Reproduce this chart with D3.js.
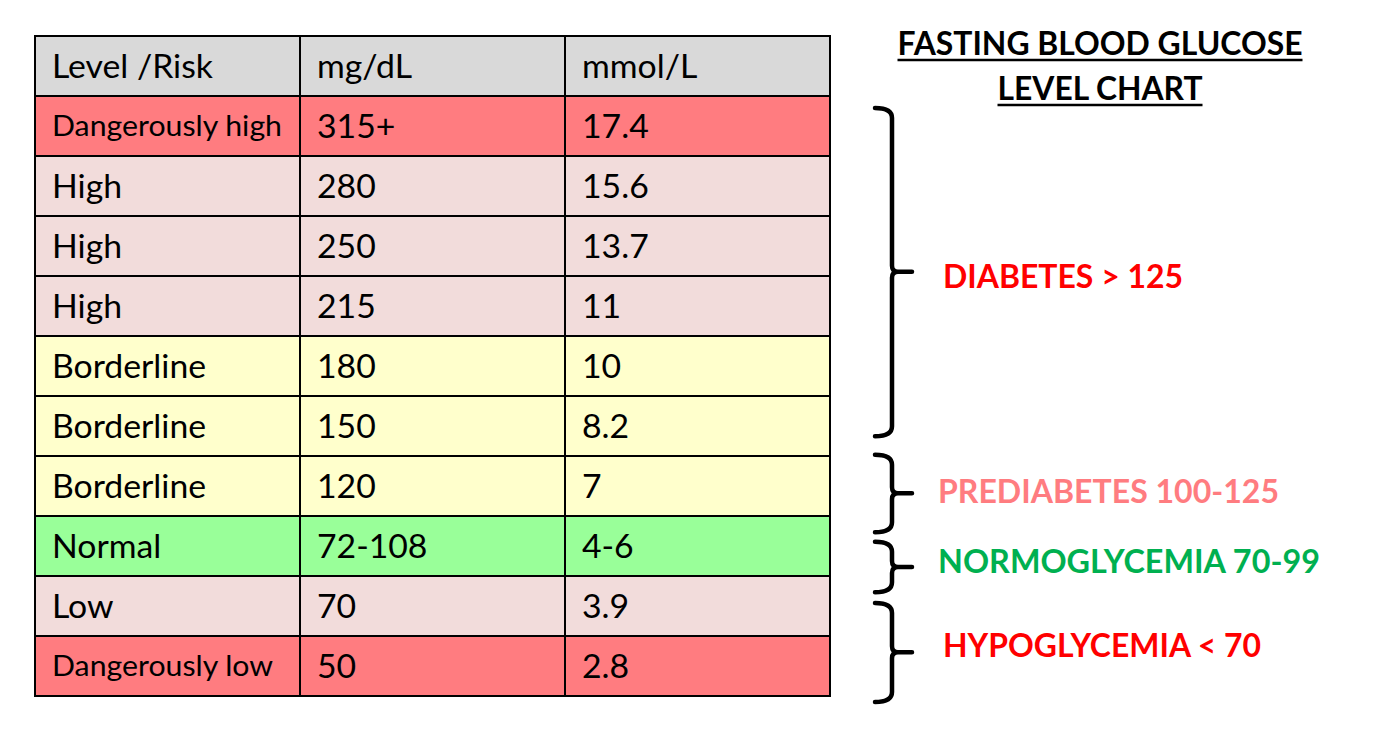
<!DOCTYPE html>
<html><head><meta charset="utf-8">
<script src="https://cdn.jsdelivr.net/npm/d3@7"></script>
<style>html,body{margin:0;padding:0;background:#fff;}</style>
</head><body>
<svg id="c" width="1392" height="733"></svg>
<script>
const headers = ["Level /Risk", "mg/dL", "mmol/L"];
const levels = ["Dangerously high","High","High","High","Borderline","Borderline","Borderline","Normal","Low","Dangerously low"];
const mgdl = ["315+","280","250","215","180","150","120","72-108","70","50"];
const mmol = ["17.4","15.6","13.7","11","10","8.2","7","4-6","3.9","2.8"];
const levelColors = {"Dangerously high":"#FF7C80","High":"#F2DCDB","Borderline":"#FFFFCC","Normal":"#99FF99","Low":"#F2DCDB","Dangerously low":"#FF7C80"};
const titleLines = ["FASTING BLOOD GLUCOSE","LEVEL CHART"];
const rangeLabels = ["DIABETES > 125","PREDIABETES 100-125","NORMOGLYCEMIA 70-99","HYPOGLYCEMIA < 70"];
const rangeColors = ["#FF0000","#FF7C80","#00B050","#FF0000"];
// brace extents in row units (start, middle, end)
const rangeSpans = [[0.2,2.93,5.67],[5.98,6.62,7.27],[7.43,7.85,8.27],[8.45,9.27,10.1]];

const svg = d3.select("#c");
const FONT = "Lato, 'Open Sans', sans-serif";
const x = d3.scaleBand().domain(headers).range([35,830]);
const y = d3.scaleLinear().domain([0,10]).range([96,696]);
const headTop = 36;

const g = svg.append("g");
g.selectAll("rect.h").data(headers).join("rect")
  .attr("x",d=>x(d)).attr("y",headTop).attr("width",x.bandwidth()).attr("height",y(0)-headTop)
  .attr("fill","#D9D9D9");
const rows = levels.map((l,i)=>({l,i,cells:[l,mgdl[i],mmol[i]]}));
g.selectAll("rect.r").data(rows).join("rect")
  .attr("x",35).attr("y",d=>y(d.i)).attr("width",795).attr("height",y(1)-y(0))
  .attr("fill",d=>levelColors[d.l]);

function measure(txt,size,weight){
  const t = svg.append("text").attr("font-family",FONT).attr("font-size",size).attr("font-weight",weight||"normal").text(txt);
  const w = t.node().getComputedTextLength(); t.remove(); return w;
}
function addText(sel, txt, size, weight, fill, xx, yy, anchor, factor){
  const t = sel.append("text").attr("x",xx).attr("y",yy).attr("font-family",FONT)
    .attr("font-size",size).attr("font-weight",weight||"normal").attr("fill",fill||"#000")
    .attr("text-anchor",anchor||"start").text(txt);
  const w = t.node().getComputedTextLength();
  t.attr("textLength",w*factor).attr("lengthAdjust","spacingAndGlyphs");
  return t;
}
const BIG = 33, SMALL = 29;
const F = 161 / measure("Level /Risk", BIG);
const FS = 230 / measure("Dangerously high", SMALL);
headers.forEach(h=>addText(g,h,BIG,"normal","#000",x(h)+17,78,"start",F));
rows.forEach(r=>{
  r.cells.forEach((c,j)=>{
    const small = j===0 && c.startsWith("Dangerously");
    addText(g,c,small?SMALL:BIG,"normal","#000",x(headers[j])+17,y(r.i)+(y(1)-y(0))/2+(small?10:12),"start",small?FS:F);
  });
});
const lines = g.append("g").attr("stroke","#000").attr("stroke-width",2);
[headTop,...d3.range(0,11).map(y)].forEach(v=>lines.append("line").attr("x1",34).attr("x2",831).attr("y1",v).attr("y2",v));
[35,...headers.map(h=>x(h)+x.bandwidth())].forEach(v=>lines.append("line").attr("x1",v).attr("x2",v).attr("y1",headTop-1).attr("y2",y(10)+1));

const tw = [405,205];
titleLines.forEach((t,i)=>{
  const by = 55+45*i;
  svg.append("text").attr("x",1100).attr("y",by).attr("text-anchor","middle")
    .attr("font-family",FONT).attr("font-size",32).attr("font-weight","bold").text(t)
    .attr("textLength",tw[i]).attr("lengthAdjust","spacingAndGlyphs");
  svg.append("line").attr("x1",1100-tw[i]/2).attr("x2",1100+tw[i]/2).attr("y1",by+5).attr("y2",by+5)
    .attr("stroke","#000").attr("stroke-width",2.5);
});

const bx = 892;
rangeSpans.forEach((s,i)=>{
  const t=y(s[0]), m=y(s[1]), b=y(s[2]);
  const p = `M875,${t} Q${bx},${t} ${bx},${t+10} L${bx},${m-6} Q${bx},${m} ${bx+6},${m} L912,${m} M${bx+6},${m} Q${bx},${m} ${bx},${m+6} L${bx},${b-10} Q${bx},${b} 875,${b}`;
  svg.append("path").attr("d",p).attr("fill","none").attr("stroke","#000").attr("stroke-width",4.5).attr("stroke-linecap","round");
});
const labelX = [943,938,938,943];
const labelW = [240,341,382,318];
const labelY = [288,503,573,657];
rangeLabels.forEach((l,i)=>{
  svg.append("text").attr("x",labelX[i]).attr("y",labelY[i]).attr("font-family",FONT)
    .attr("font-size",32).attr("font-weight","bold").attr("fill",rangeColors[i]).text(l)
    .attr("textLength",labelW[i]).attr("lengthAdjust","spacingAndGlyphs");
});
</script>
</body></html>
